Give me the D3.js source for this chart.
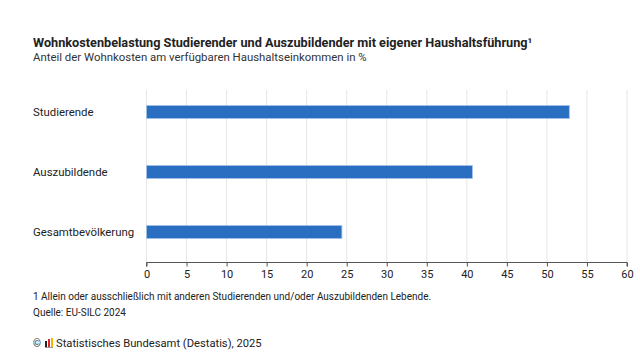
<!DOCTYPE html>
<html>
<head>
<meta charset="utf-8">
<script src="https://cdn.jsdelivr.net/npm/d3@7"></script>
<style>
  body { margin: 0; background: #fff; }
  text { font-family: "Roboto", "Liberation Sans", sans-serif; fill: #222; }
</style>
</head>
<body>
<script>
// Daten
const kategorien = ["Studierende", "Auszubildende", "Gesamtbevölkerung"];
const werte = [52.8, 40.7, 24.4];
const ticks = [0, 5, 10, 15, 20, 25, 30, 35, 40, 45, 50, 55, 60];

const width = 640, height = 360;
const svg = d3.select("body").append("svg")
    .attr("width", width)
    .attr("height", height);

svg.append("rect").attr("width", width).attr("height", height).attr("fill", "#fff");

// Titel
svg.append("text")
    .attr("x", 33).attr("y", 47)
    .style("font-size", "12.7px").style("font-weight", "bold")
    .text("Wohnkostenbelastung Studierender und Auszubildender mit eigener Haushaltsführung¹");
svg.append("text")
    .attr("x", 33).attr("y", 61)
    .style("font-size", "11.4px").style("fill", "#333")
    .text("Anteil der Wohnkosten am verfügbaren Haushaltseinkommen in %");

// Skalen
const x = d3.scaleLinear().domain([0, 60]).range([146.5, 627]);
const y = d3.scaleBand().domain(kategorien).range([82, 262]).paddingInner(0.78).paddingOuter(0.39);

// Gitternetz
svg.append("g")
    .selectAll("line")
    .data(ticks)
    .enter().append("line")
    .attr("x1", d => x(d)).attr("x2", d => x(d))
    .attr("y1", 90).attr("y2", 262)
    .attr("stroke", "#e6e6e6").attr("stroke-width", 1);

// Balken
svg.append("g")
    .selectAll("rect")
    .data(werte)
    .enter().append("rect")
    .attr("x", x(0))
    .attr("y", (d, i) => y(kategorien[i]))
    .attr("width", d => x(d) - x(0))
    .attr("height", y.bandwidth())
    .attr("fill", "#2a6ec2")
    .attr("stroke", "#a9c5ea").attr("stroke-width", 0.8);

// Kategorien
svg.append("g")
    .selectAll("text")
    .data(kategorien)
    .enter().append("text")
    .attr("x", 33)
    .attr("y", d => y(d) + y.bandwidth() / 2)
    .attr("dy", "0.35em")
    .style("font-size", "11.4px")
    .text(d => d);

// x-Achse
const achse = svg.append("g")
    .attr("transform", "translate(0,262.5)")
    .call(d3.axisBottom(x).tickValues(ticks).tickSize(4).tickPadding(4));
achse.select(".domain").attr("stroke", "#555").attr("d", `M${x(0)},4V0H${x(60)}V4`);
achse.selectAll(".tick line").attr("stroke", "#555");
achse.selectAll(".tick text")
    .style("font-family", "Roboto, sans-serif")
    .style("font-size", "11px").style("fill", "#222");

// Fußnoten
svg.append("text").attr("x", 33).attr("y", 300)
    .style("font-size", "10px")
    .text("1 Allein oder ausschließlich mit anderen Studierenden und/oder Auszubildenden Lebende.");
svg.append("text").attr("x", 33).attr("y", 316)
    .style("font-size", "10px")
    .text("Quelle: EU-SILC 2024");

// Copyright mit Logo
svg.append("text").attr("x", 33).attr("y", 347)
    .style("font-size", "10px")
    .text("©");
const logo = svg.append("g").attr("transform", "translate(45,338)");
logo.append("rect").attr("x", 0).attr("y", 3).attr("width", 2).attr("height", 6).attr("fill", "#222");
logo.append("rect").attr("x", 3).attr("y", 1).attr("width", 2).attr("height", 8).attr("fill", "#d9262b");
logo.append("rect").attr("x", 6).attr("y", 0).attr("width", 2).attr("height", 9).attr("fill", "#f2b800");
logo.append("rect").attr("x", 0).attr("y", 9).attr("width", 8).attr("height", 1).attr("fill", "#999");
svg.append("text").attr("x", 56).attr("y", 347)
    .style("font-size", "11.2px")
    .text("Statistisches Bundesamt (Destatis), 2025");
</script>
</body>
</html>
